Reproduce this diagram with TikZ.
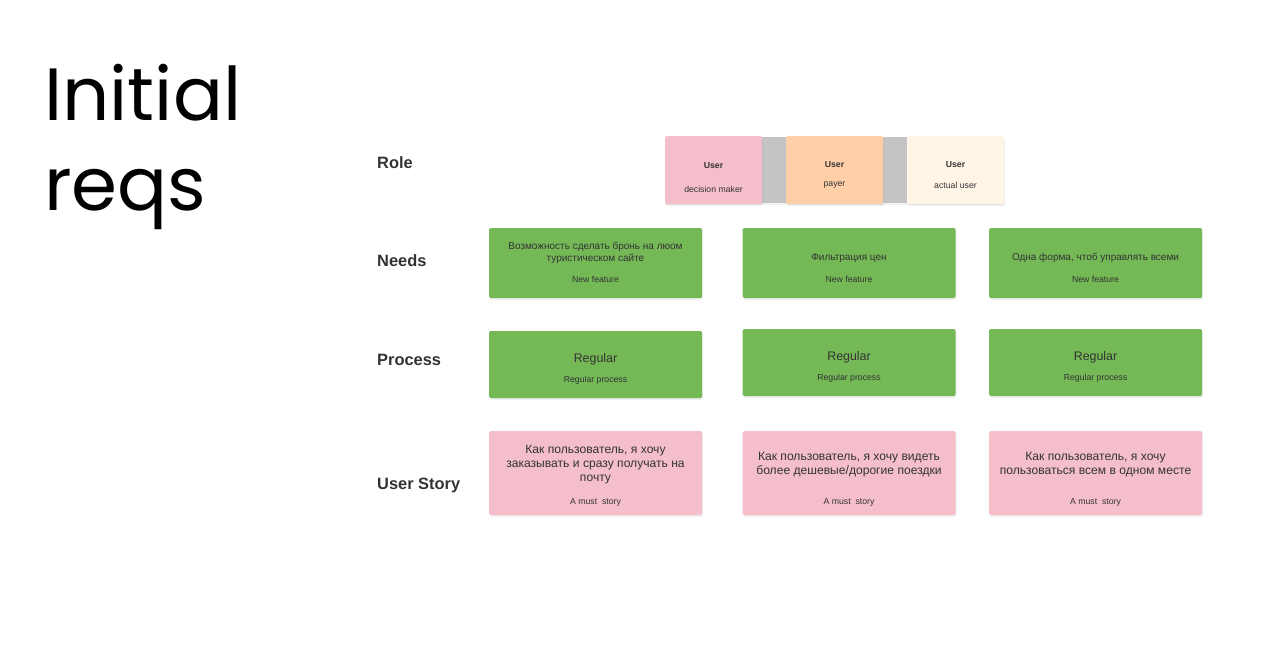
\documentclass[tikz,border=0pt]{standalone}
\usepackage{fontspec}
\setmainfont{Liberation Sans}
\newfontfamily\titlefont{Poppins}
\usetikzlibrary{positioning,shadows}

\definecolor{needgreen}{HTML}{75B957}
\definecolor{storypink}{HTML}{F4BFCB}
\definecolor{payerorange}{HTML}{FFCFA8}
\definecolor{usercream}{HTML}{FFF5E6}
\definecolor{bandgray}{HTML}{C4C4C4}
\definecolor{inkgray}{HTML}{333333}

\begin{document}
\begin{tikzpicture}[x=1pt,y=-1pt,
  card/.style={rounded corners=1.5pt,minimum width=213pt,inner sep=0pt,
    drop shadow={opacity=0.12,shadow xshift=1pt,shadow yshift=-2pt}},
  needcard/.style={card,fill=needgreen,minimum height=70pt},
  proccard/.style={card,fill=needgreen,minimum height=67pt},
  storycard/.style={card,fill=storypink,minimum height=84pt},
  rolecard/.style={card,minimum width=97pt,minimum height=68pt},
  rowlabel/.style={anchor=west,inner sep=0pt,text=inkgray,font=\fontsize{16.4}{18}\selectfont\bfseries},
  cardmain/.style={align=center,inner sep=0pt,text=inkgray,font=\fontsize{10}{12}\selectfont},
  cardsub/.style={inner sep=0pt,text=inkgray,font=\fontsize{8.7}{10}\selectfont},
  storymain/.style={align=center,inner sep=0pt,text=inkgray,font=\fontsize{12.1}{14}\selectfont},
  procmain/.style={inner sep=0pt,text=inkgray,font=\fontsize{12.4}{14}\selectfont},
  rolemain/.style={inner sep=0pt,text=inkgray,font=\fontsize{8.7}{10}\selectfont\bfseries},
  titleline/.style={anchor=base west,inner sep=0pt,font=\titlefont\fontsize{74}{90}\selectfont}]
  \useasboundingbox (0,0) rectangle (1280,661);

  % title
  \node[titleline] (title) at (44,120) {Initial};
  \node[titleline] (titleb) at (44,210) {reqs};

  % row labels
  \node[rowlabel] (role) at (377,163) {Role};
  \node[rowlabel] (needs) at (377,261) {Needs};
  \node[rowlabel] (process) at (377,360) {Process};
  \node[rowlabel] (story) at (377,485) {User Story};

  % roles
  \node[fill=bandgray,minimum width=339pt,minimum height=66pt,inner sep=0pt,
    drop shadow={opacity=0.12,shadow xshift=0pt,shadow yshift=-1.5pt}] (band) at (834.5,170) {};
  \node[rolecard,fill=storypink] (maker) at (713.5,170) {};
  \node[rolecard,fill=payerorange] (payer) at (834.5,170) {};
  \node[rolecard,fill=usercream] (actual) at (955.5,170) {};
  \node[rolemain] (makert) at (713.5,166) {User};
  \node[cardsub] (makers) at (713.5,189) {decision maker};
  \node[rolemain] (payert) at (834.5,165) {User};
  \node[cardsub] (payers) at (834.5,185) {payer};
  \node[rolemain] (actualt) at (955.5,165) {User};
  \node[cardsub] (actuals) at (955.5,185) {actual user};

  % needs
  \node[needcard] (need1) at (595.5,263) {};
  \node[needcard] (need2) at (849,263) {};
  \node[needcard] (need3) at (1095.5,263) {};
  \node[cardmain] (need1t) at (595.5,252.5) {Возможность сделать бронь на люом\\туристическом сайте};
  \node[cardsub] (need1s) at (595.5,279) {New feature};
  \node[cardmain] (need2t) at (849,258) {Фильтрация цен};
  \node[cardsub] (need2s) at (849,279) {New feature};
  \node[cardmain] (need3t) at (1095.5,258) {Одна форма, чтоб управлять всеми};
  \node[cardsub] (need3s) at (1095.5,279) {New feature};

  % process
  \node[proccard] (proc1) at (595.5,364.5) {};
  \node[proccard] (proc2) at (849,362.5) {};
  \node[proccard] (proc3) at (1095.5,362.5) {};
  \node[procmain] (proc1t) at (595.5,359.5) {Regular};
  \node[cardsub] (proc1s) at (595.5,380) {Regular process};
  \node[procmain] (proc2t) at (849,357.5) {Regular};
  \node[cardsub] (proc2s) at (849,378) {Regular process};
  \node[procmain] (proc3t) at (1095.5,357.5) {Regular};
  \node[cardsub] (proc3s) at (1095.5,378) {Regular process};

  % user stories
  \node[storycard] (story1) at (595.5,473) {};
  \node[storycard] (story2) at (849,473) {};
  \node[storycard] (story3) at (1095.5,473) {};
  \node[storymain] (story1t) at (595.5,464.5) {Как пользователь, я хочу\\заказывать и сразу получать на\\почту};
  \node[cardsub] (story1s) at (595.5,502) {A must\ \ story};
  \node[storymain] (story2t) at (849,464.5) {Как пользователь, я хочу видеть\\более дешевые/дорогие поездки};
  \node[cardsub] (story2s) at (849,502) {A must\ \ story};
  \node[storymain] (story3t) at (1095.5,464.5) {Как пользователь, я хочу\\пользоваться всем в одном месте};
  \node[cardsub] (story3s) at (1095.5,502) {A must\ \ story};
\end{tikzpicture}
\end{document}
